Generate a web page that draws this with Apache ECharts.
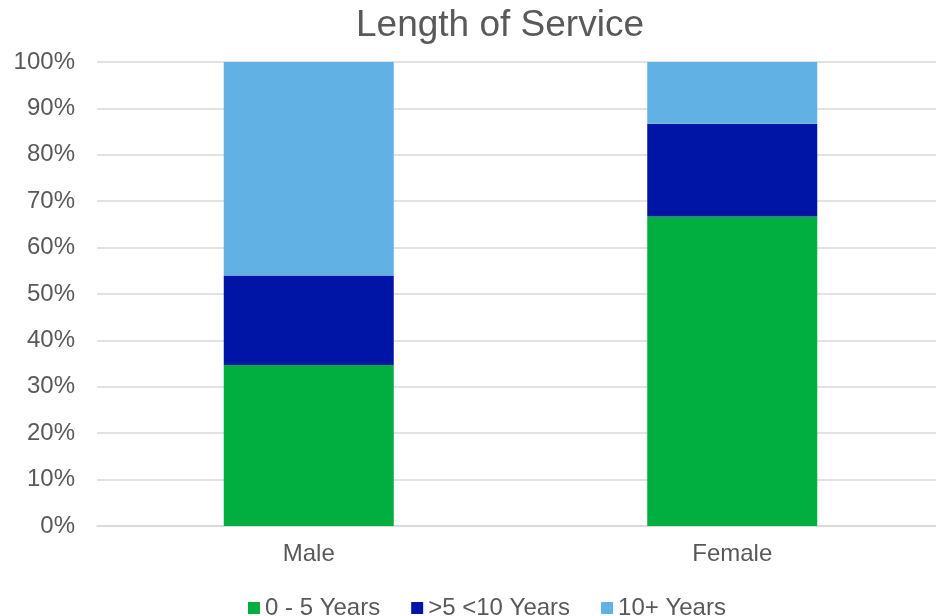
<!DOCTYPE html>
<html>
<head>
<meta charset="utf-8">
<script src="https://cdn.jsdelivr.net/npm/echarts@6/dist/echarts.min.js"></script>
<style>html,body{margin:0;padding:0;background:#fff}#c{width:936px;height:616px}</style>
</head>
<body>
<div id="c"></div>
<script>
var categories = ['Male', 'Female'];
var seriesNames = ['0 - 5 Years', '>5 <10 Years', '10+ Years'];
var years0to5 = [34.7, 66.7];
var years5to10 = [19.3, 20.0];
var years10plus = [46.0, 13.3];
var yTicks = [0, 10, 20, 30, 40, 50, 60, 70, 80, 90, 100];

var colors = ['#00AF3F', '#0014A6', '#62B1E4'];
var font = 'Liberation Sans, Arial, sans-serif';
var chart = echarts.init(document.getElementById('c'));
var dataSets = [years0to5, years5to10, years10plus];
chart.setOption({
  animation: false,
  title: {
    text: 'Length of Service', left: 351, top: 2,
    textStyle: {fontFamily: font, fontSize: 37, fontWeight: 'normal', color: '#595959'}
  },
  legend: {
    bottom: -9, left: 243, itemWidth: 12, itemHeight: 12, itemGap: 31,
    icon: 'rect',
    textStyle: {fontFamily: font, fontSize: 24, color: '#595959'},
    data: seriesNames
  },
  grid: {left: 97, width: 847, top: 62, bottom: 90, outerBoundsMode: 'none', containLabel: false},
  xAxis: {
    type: 'category', data: categories,
    axisLine: {lineStyle: {color: '#D9D9D9', width: 1.5}},
    axisTick: {show: false},
    axisLabel: {fontFamily: font, fontSize: 24, color: '#595959', margin: 16}
  },
  yAxis: {
    type: 'value', min: yTicks[0], max: yTicks[yTicks.length - 1], interval: 10,
    axisLine: {show: false}, axisTick: {show: false},
    splitLine: {lineStyle: {color: '#D9D9D9', width: 1.5}},
    axisLabel: {fontFamily: font, fontSize: 24, color: '#595959', margin: 22,
      formatter: function (v) { return v + '%'; }}
  },
  series: seriesNames.map(function (n, i) {
    return {
      name: n, type: 'bar', stack: 'total', barWidth: 170,
      itemStyle: {color: colors[i]},
      data: dataSets[i]
    };
  })
});
</script>
</body>
</html>
